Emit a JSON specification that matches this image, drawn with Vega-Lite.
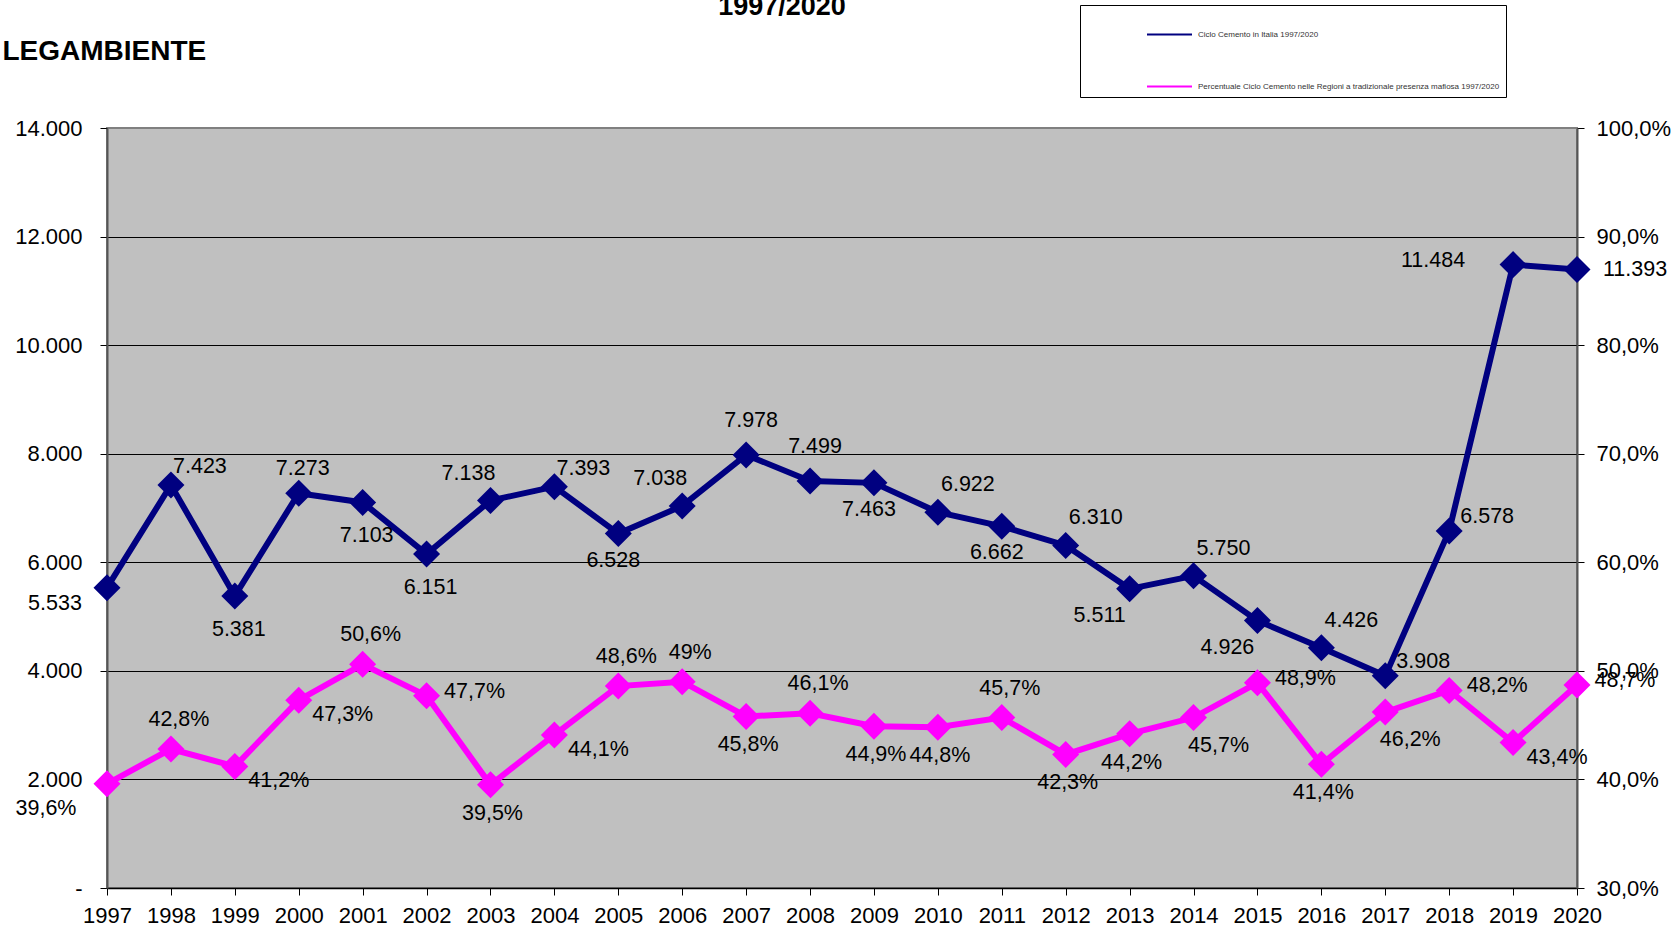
{
  "$schema": "https://vega.github.io/schema/vega-lite/v6.json",
  "width": 1470,
  "height": 760,
  "autosize": {"type": "none"},
  "padding": {"left": 107, "top": 128, "right": 95, "bottom": 40},
  "background": "white",
  "title": {"text": "1997/2020", "fontSize": 27, "fontWeight": "bold", "anchor": "middle", "dx": -60, "offset": -16, "color": "black"},
  "config": {
    "font": "Liberation Sans",
    "locale": {"number": {"decimal": ",", "thousands": ".", "grouping": [3], "currency": ["€", ""]}},
    "view": {"fill": "#C0C0C0", "stroke": "#808080", "strokeWidth": 2},
    "axis": {"labelFontSize": 22, "labelColor": "black", "tickColor": "black", "tickSize": 7, "domainColor": "#555555", "domainWidth": 2, "labelFont": "Liberation Sans"},
    "text": {"fontSize": 21.5, "font": "Liberation Sans", "color": "black", "baseline": "middle", "align": "center"}
  },
  "data": {"values": [
    {"year": 1997, "cemento": 5533, "pct": 0.396},
    {"year": 1998, "cemento": 7423, "pct": 0.428},
    {"year": 1999, "cemento": 5381, "pct": 0.412},
    {"year": 2000, "cemento": 7273, "pct": 0.473},
    {"year": 2001, "cemento": 7103, "pct": 0.506},
    {"year": 2002, "cemento": 6151, "pct": 0.477},
    {"year": 2003, "cemento": 7138, "pct": 0.395},
    {"year": 2004, "cemento": 7393, "pct": 0.441},
    {"year": 2005, "cemento": 6528, "pct": 0.486},
    {"year": 2006, "cemento": 7038, "pct": 0.49},
    {"year": 2007, "cemento": 7978, "pct": 0.458},
    {"year": 2008, "cemento": 7499, "pct": 0.461},
    {"year": 2009, "cemento": 7463, "pct": 0.449},
    {"year": 2010, "cemento": 6922, "pct": 0.448},
    {"year": 2011, "cemento": 6662, "pct": 0.457},
    {"year": 2012, "cemento": 6310, "pct": 0.423},
    {"year": 2013, "cemento": 5511, "pct": 0.442},
    {"year": 2014, "cemento": 5750, "pct": 0.457},
    {"year": 2015, "cemento": 4926, "pct": 0.489},
    {"year": 2016, "cemento": 4426, "pct": 0.414},
    {"year": 2017, "cemento": 3908, "pct": 0.462},
    {"year": 2018, "cemento": 6578, "pct": 0.482},
    {"year": 2019, "cemento": 11484, "pct": 0.434},
    {"year": 2020, "cemento": 11393, "pct": 0.487}
  ]},
  "encoding": {
    "x": {"field": "year", "type": "ordinal", "scale": {"type": "point", "padding": 0},
      "axis": {"title": null, "labelAngle": 0, "labelPadding": 10, "domainColor": "black", "domainWidth": 1.5, "grid": false}}
  },
  "layer": [
    {
      "encoding": {
        "y": {"field": "cemento", "type": "quantitative", "scale": {"domain": [0, 14000], "nice": false, "zero": true},
          "axis": {"orient": "left", "values": [0, 2000, 4000, 6000, 8000, 10000, 12000, 14000], "format": ",d",
            "labelExpr": "datum.value == 0 ? '-\u00a0\u00a0' : datum.label", "labelPadding": 18,
            "grid": true, "gridColor": {"condition": {"test": "datum.value == 14000", "value": "#808080"}, "value": "black"}, "gridWidth": 1,
            "title": "LEGAMBIENTE", "titleAngle": 0, "titleAlign": "left", "titleBaseline": "alphabetic", "titleX": -105, "titleY": -69,
            "titleFontSize": 28, "titleFontWeight": "bold", "titleColor": "black", "titleFont": "Liberation Sans"}}
      },
      "layer": [
        {"mark": {"type": "line", "strokeWidth": 6},
          "encoding": {"color": {"datum": "Ciclo Cemento in Italia 1997/2020",
            "scale": {"domain": ["Ciclo Cemento in Italia 1997/2020", "Percentuale Ciclo Cemento nelle Regioni a tradizionale presenza mafiosa 1997/2020"], "range": ["#000080", "#FF00FF"]},
            "legend": {"title": null, "orient": "none", "legendX": 973, "legendY": -123, "fillColor": "white", "strokeColor": "black", "padding": 6,
              "labelFontSize": 8, "labelColor": "#333333", "labelLimit": 500, "symbolType": "stroke", "symbolSize": 2025, "symbolStrokeWidth": 2, "rowPadding": 24,
              "symbolOffset": 60, "labelOffset": 5}}}},
        {"mark": {"type": "point", "shape": "diamond", "filled": true, "size": 729, "color": "#000080", "opacity": 1}},
        {"transform": [{"filter": {"field": "year", "oneOf": [2000]}}], "mark": {"type": "text", "dx": 4, "dy": -24}, "encoding": {"text": {"field": "cemento", "type": "quantitative", "format": ",d"}}},
        {"transform": [{"filter": {"field": "year", "oneOf": [2007, 2008]}}], "mark": {"type": "text", "dx": 5, "dy": -34}, "encoding": {"text": {"field": "cemento", "type": "quantitative", "format": ",d"}}},
        {"transform": [{"filter": {"field": "year", "oneOf": [1998, 2004]}}], "mark": {"type": "text", "dx": 29, "dy": -18}, "encoding": {"text": {"field": "cemento", "type": "quantitative", "format": ",d"}}},
        {"transform": [{"filter": {"field": "year", "oneOf": [2010, 2012, 2014, 2016]}}], "mark": {"type": "text", "dx": 30, "dy": -27}, "encoding": {"text": {"field": "cemento", "type": "quantitative", "format": ",d"}}},
        {"transform": [{"filter": {"field": "year", "oneOf": [2003, 2006]}}], "mark": {"type": "text", "dx": -22, "dy": -27}, "encoding": {"text": {"field": "cemento", "type": "quantitative", "format": ",d"}}},
        {"transform": [{"filter": {"field": "year", "oneOf": [1999, 2001, 2002]}}], "mark": {"type": "text", "dx": 4, "dy": 34}, "encoding": {"text": {"field": "cemento", "type": "quantitative", "format": ",d"}}},
        {"transform": [{"filter": {"field": "year", "oneOf": [2005, 2009, 2011]}}], "mark": {"type": "text", "dx": -5, "dy": 27}, "encoding": {"text": {"field": "cemento", "type": "quantitative", "format": ",d"}}},
        {"transform": [{"filter": {"field": "year", "oneOf": [2013, 2015]}}], "mark": {"type": "text", "dx": -30, "dy": 27}, "encoding": {"text": {"field": "cemento", "type": "quantitative", "format": ",d"}}},
        {"transform": [{"filter": {"field": "year", "oneOf": [2017, 2018]}}], "mark": {"type": "text", "dx": 38, "dy": -14}, "encoding": {"text": {"field": "cemento", "type": "quantitative", "format": ",d"}}},
        {"transform": [{"filter": {"field": "year", "oneOf": [2020]}}], "mark": {"type": "text", "dx": 58, "dy": 0}, "encoding": {"text": {"field": "cemento", "type": "quantitative", "format": ",d"}}},
        {"transform": [{"filter": {"field": "year", "oneOf": [1997]}}], "mark": {"type": "text", "dx": -52, "dy": 16}, "encoding": {"text": {"field": "cemento", "type": "quantitative", "format": ",d"}}},
        {"transform": [{"filter": {"field": "year", "oneOf": [2019]}}], "mark": {"type": "text", "dx": -80, "dy": -4}, "encoding": {"text": {"field": "cemento", "type": "quantitative", "format": ",d"}}}
      ]
    },
    {
      "encoding": {
        "y": {"field": "pct", "type": "quantitative", "scale": {"domain": [0.3, 1.0], "nice": false, "zero": false},
          "axis": {"orient": "right", "values": [0.3, 0.4, 0.5, 0.6, 0.7, 0.8, 0.9, 1.0], "format": ".1%", "labelPadding": 12, "grid": false, "title": null}}
      },
      "layer": [
        {"mark": {"type": "line", "strokeWidth": 6},
          "encoding": {"color": {"datum": "Percentuale Ciclo Cemento nelle Regioni a tradizionale presenza mafiosa 1997/2020"}}},
        {"mark": {"type": "point", "shape": "diamond", "filled": true, "size": 729, "color": "#FF00FF", "opacity": 1}},
        {"transform": [{"filter": {"field": "year", "oneOf": [1998, 2001, 2005, 2006, 2008, 2011]}}], "mark": {"type": "text", "dx": 8, "dy": -29}, "encoding": {"text": {"field": "pct", "type": "quantitative", "format": ".1~%"}}},
        {"transform": [{"filter": {"field": "year", "oneOf": [2003, 2007, 2009, 2010, 2012, 2013, 2016]}}], "mark": {"type": "text", "dx": 2, "dy": 29}, "encoding": {"text": {"field": "pct", "type": "quantitative", "format": ".1~%"}}},
        {"transform": [{"filter": {"field": "year", "oneOf": [2014, 2017]}}], "mark": {"type": "text", "dx": 25, "dy": 28}, "encoding": {"text": {"field": "pct", "type": "quantitative", "format": ".1~%"}}},
        {"transform": [{"filter": {"field": "year", "oneOf": [1999, 2000, 2004, 2019]}}], "mark": {"type": "text", "dx": 44, "dy": 15}, "encoding": {"text": {"field": "pct", "type": "quantitative", "format": ".1~%"}}},
        {"transform": [{"filter": {"field": "year", "oneOf": [2002, 2015, 2018, 2020]}}], "mark": {"type": "text", "dx": 48, "dy": -4}, "encoding": {"text": {"field": "pct", "type": "quantitative", "format": ".1~%"}}},
        {"transform": [{"filter": {"field": "year", "oneOf": [1997]}}], "mark": {"type": "text", "dx": -61, "dy": 25}, "encoding": {"text": {"field": "pct", "type": "quantitative", "format": ".1~%"}}}
      ]
    }
  ],
  "resolve": {"scale": {"y": "independent"}}
}
